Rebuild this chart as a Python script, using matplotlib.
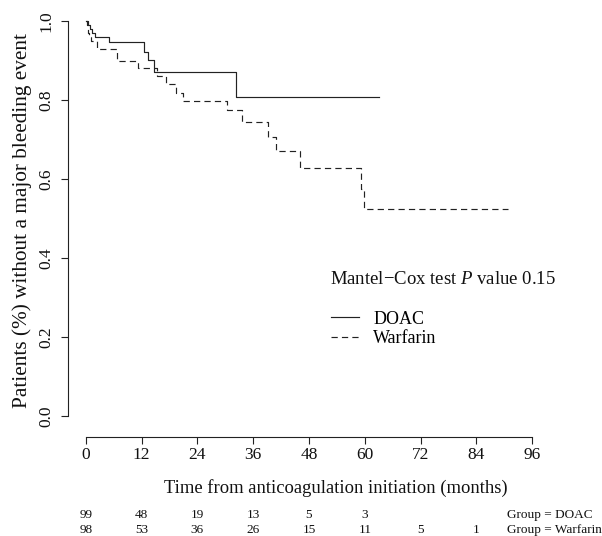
import matplotlib
matplotlib.use("Agg")
import matplotlib.pyplot as plt
from matplotlib.lines import Line2D
from matplotlib.transforms import blended_transform_factory

plt.rcParams['font.family'] = ['Liberation Serif', 'DejaVu Serif']
plt.rcParams['mathtext.fontset'] = 'custom'
plt.rcParams['mathtext.rm'] = 'Liberation Serif'
plt.rcParams['mathtext.it'] = 'Liberation Serif:italic'
plt.rcParams['lines.scale_dashes'] = False

# Kaplan-Meier step data (time in months, survival proportion)
doac_t = [0, 0.4, 0.9, 1.4, 2.0, 5.0, 12.5, 13.4, 14.6, 32.4, 63.0]
doac_s = [1.0, 0.990, 0.980, 0.969, 0.958, 0.946, 0.922, 0.900, 0.871, 0.808, 0.808]

warf_t = [0, 0.2, 0.4, 0.6, 1.0, 2.3, 6.6, 11.2, 15.3, 17.2, 19.3, 20.9,
          30.3, 33.6, 39.2, 41.0, 46.0, 59.2, 59.9, 90.8]
warf_s = [1.0, 0.990, 0.970, 0.958, 0.948, 0.928, 0.898, 0.880, 0.861, 0.840,
          0.818, 0.798, 0.774, 0.743, 0.707, 0.671, 0.627, 0.575, 0.523, 0.523]

x_ticks = [0, 12, 24, 36, 48, 60, 72, 84, 96]
y_ticks = [0.0, 0.2, 0.4, 0.6, 0.8, 1.0]
y_ticklabels = ["0.0", "0.2", "0.4", "0.6", "0.8", "1.0"]

risk_times = [0, 12, 24, 36, 48, 60, 72, 84]
risk_doac = ["99", "48", "19", "13", "5", "3", "", ""]
risk_warf = ["98", "53", "36", "26", "15", "11", "5", "1"]
group_labels = ["Group = DOAC", "Group = Warfarin"]

W, H = 602, 536
fig = plt.figure(figsize=(W / 100, H / 100), dpi=100)
left_px, right_px, top_px, bot_px = 68, 550, 5, 432
ax = fig.add_axes([left_px / W, 1 - bot_px / H, (right_px - left_px) / W, (bot_px - top_px) / H])
ax.set_xlim(-3.84, 99.84)
ax.set_ylim(-0.04, 1.04)

col = '#222222'
ax.step(doac_t, doac_s, where='post', color=col, lw=0.85)
ln, = ax.step(warf_t, warf_s, where='post', color=col, lw=0.85)
ln.set_dashes((4.5, 3))

for s in ['top', 'right']:
    ax.spines[s].set_visible(False)
ax.spines['left'].set_bounds(0, 1)
ax.spines['bottom'].set_bounds(0, 96)
ax.spines['bottom'].set_position(('outward', 3.6))
for s in ['left', 'bottom']:
    ax.spines[s].set_linewidth(0.8)
    ax.spines[s].set_color(col)

ax.set_xticks(x_ticks)
ax.set_xticklabels([str(v) for v in x_ticks])
ax.set_yticks(y_ticks)
ax.set_yticklabels(y_ticklabels, rotation=90, va='center')
ax.tick_params(axis='both', direction='out', length=5, width=0.8, color=col,
               labelsize=12.5, labelcolor='#111111')
ax.tick_params(axis='x', pad=2.5)
ax.tick_params(axis='y', pad=5)

ax.set_xlabel("Time from anticoagulation initiation (months)", fontsize=13.4, color='#111111')
ax.xaxis.set_label_coords((336 - left_px) / (right_px - left_px), (bot_px - 488) / (bot_px - top_px))
ax.xaxis.label.set_va('center')
ax.set_ylabel("Patients (%) without a major bleeding event", fontsize=15.3, color='#111111')
ax.yaxis.set_label_coords((22 - left_px) / (right_px - left_px), (bot_px - 220) / (bot_px - top_px))
ax.yaxis.label.set_va('center')

ax.text(52.5, 0.345, "Mantel\u2212Cox test $\\mathit{P}$ value 0.15", fontsize=13.5,
        va='center', ha='left', color='#111111')

handles = [Line2D([], [], color=col, lw=0.85),
           Line2D([], [], color=col, lw=0.85, dashes=(4.5, 3))]
fig.legend(handles, ["DOAC", "Warfarin"], loc='upper left',
           bbox_to_anchor=(327 / W, 1 - 307 / H), frameon=False, fontsize=13,
           handlelength=1.55, handletextpad=0.8, labelspacing=0.15, borderpad=0.2,
           borderaxespad=0)

tr = blended_transform_factory(ax.transData, fig.transFigure)
for t, a, b in zip(risk_times, risk_doac, risk_warf):
    ax.text(t, 1 - 515 / H, a, transform=tr, ha='center', va='center', fontsize=9.5, color='#111111')
    ax.text(t, 1 - 530 / H, b, transform=tr, ha='center', va='center', fontsize=9.5, color='#111111')
fig.text(507 / W, 1 - 515 / H, group_labels[0], ha='left', va='center', fontsize=9.5, color='#111111')
fig.text(507 / W, 1 - 530 / H, group_labels[1], ha='left', va='center', fontsize=9.5, color='#111111')

fig.savefig("out.png", dpi=100)
